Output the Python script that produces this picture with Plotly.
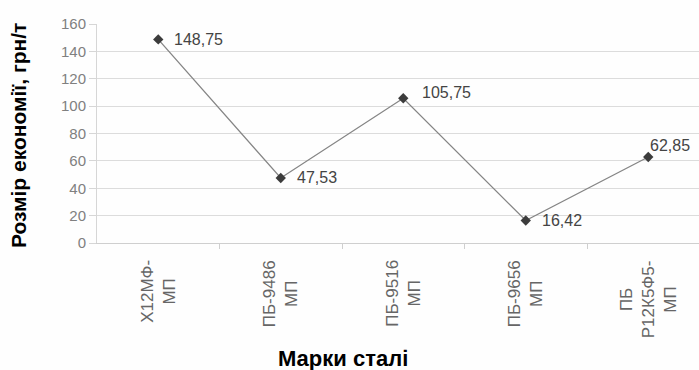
import plotly.graph_objects as go

# Steel grades and savings per tonne
grades = ["Х12МФ-<br>МП", "ПБ-9486<br>МП", "ПБ-9516<br>МП", "ПБ-9656<br>МП", "ПБ<br>Р12К5Ф5-<br>МП"]
savings = [148.75, 47.53, 105.75, 16.42, 62.85]
y_ticks = [0, 20, 40, 60, 80, 100, 120, 140, 160]

x_title = "Марки сталі"
y_title = "Розмір економії, грн/т"

FONT = "Arial, Liberation Sans, sans-serif"
W, H = 699, 370
M_L, M_R, M_T, M_B = 97, 0, 24, 127
plot_w = W - M_L - M_R
plot_h = H - M_T - M_B

# label offsets (px) relative to each marker
label_dx = [14, 14, 17, 14, 0]
label_dy = [0, 0, 6, 0, 11]

cats = list(range(len(grades)))

fig = go.Figure()
fig.add_trace(go.Scatter(
    x=cats, y=savings, mode="lines+markers",
    line=dict(color="#858585", width=1.3),
    marker=dict(symbol="diamond", size=8, color="#3c3c3c"),
    cliponaxis=False, hoverinfo="skip",
))

annotations = []
for i, v in enumerate(savings):
    annotations.append(dict(
        x=i, y=v, xref="x", yref="y",
        text=f"{v:.2f}".replace(".", ","),
        showarrow=False, xanchor="left", yanchor="middle",
        xshift=label_dx[i], yshift=label_dy[i],
        font=dict(family=FONT, size=16, color="#444444"),
    ))

for i, g in enumerate(grades):
    annotations.append(dict(
        x=i, y=-(258 - 243) / plot_h, xref="x", yref="paper",
        text=g, showarrow=False, textangle=-90,
        xanchor="center", yanchor="top", align="center",
        font=dict(family=FONT, size=17, color="#666666"),
    ))

annotations.append(dict(
    x=(343 - M_L) / plot_w, y=(243 - 358) / plot_h,
    xref="paper", yref="paper", text=f"<b>{x_title}</b>",
    showarrow=False, xanchor="center", yanchor="middle",
    font=dict(family=FONT, size=22, color="#000000"),
))
annotations.append(dict(
    x=(18 - M_L) / plot_w, y=(243 - 136) / plot_h,
    xref="paper", yref="paper", text=f"<b>{y_title}</b>",
    showarrow=False, xanchor="center", yanchor="middle", textangle=-90,
    font=dict(family=FONT, size=21, color="#000000"),
))

fig.update_layout(
    width=W, height=H,
    margin=dict(l=M_L, r=M_R, t=M_T, b=M_B),
    paper_bgcolor="#fefefe", plot_bgcolor="#fefefe",
    showlegend=False,
    annotations=annotations,
    xaxis=dict(
        range=[-0.5, len(grades) - 0.5 - (122.5 * len(grades) - plot_w) / 122.5],
        tickmode="array", tickvals=[i - 0.5 for i in range(1, len(grades))],
        showticklabels=False, ticks="outside", ticklen=5, tickcolor="#cfcfcf",
        showgrid=False, zeroline=False,
        showline=True, linecolor="#cfcfcf", linewidth=1,
    ),
    yaxis=dict(
        range=[0, 160], tickvals=y_ticks,
        ticks="outside", ticklen=7, tickcolor="#d6d6d6",
        tickfont=dict(family=FONT, size=15, color="#808080"),
        showgrid=True, gridcolor="#dcdcdc", gridwidth=1,
        zeroline=False, showline=True, linecolor="#d6d6d6",
    ),
)

fig.write_html("out.html")
